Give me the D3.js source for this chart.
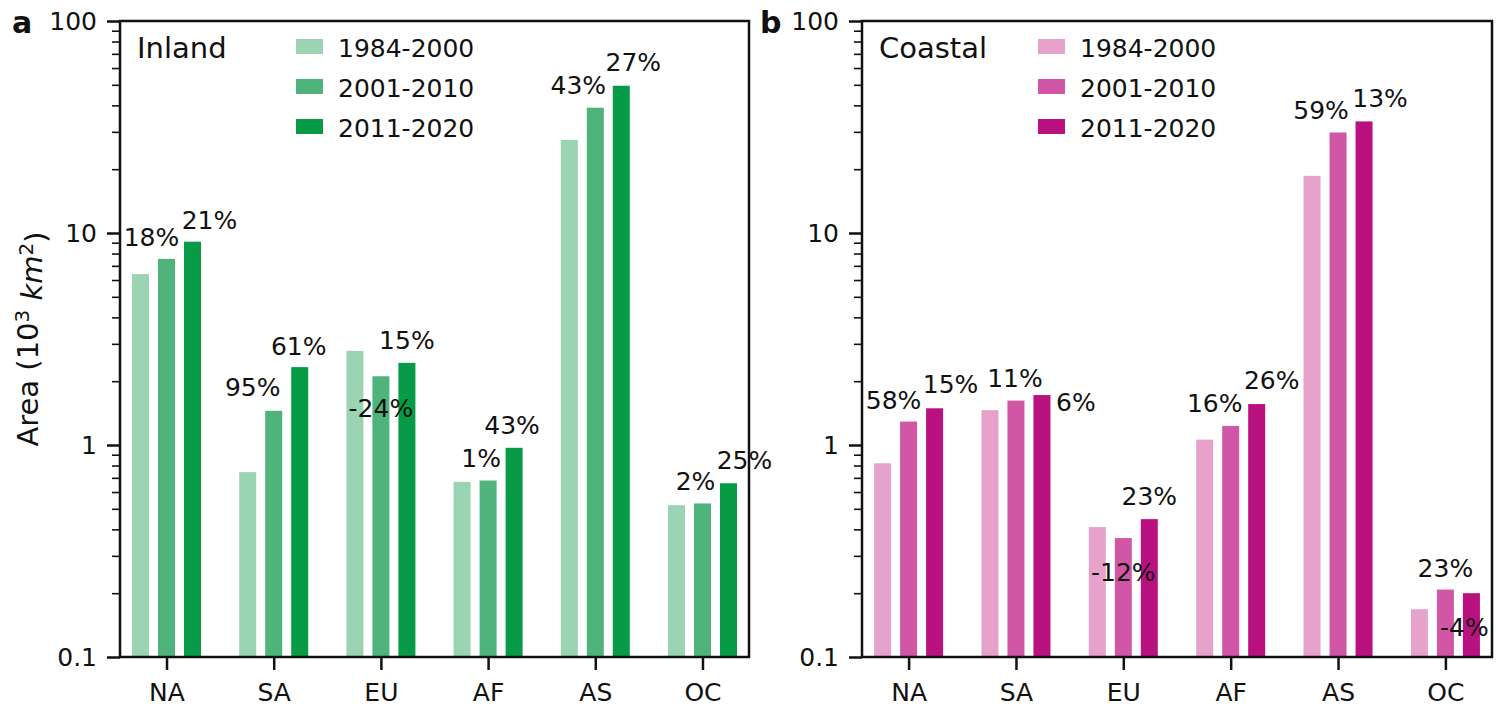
<!DOCTYPE html>
<html>
<head>
<meta charset="utf-8">
<script src="https://cdn.jsdelivr.net/npm/d3@7"></script>
<style>
  html, body { margin: 0; padding: 0; background: #fff; }
  svg { display: block; }
  text { font-family: "DejaVu Sans", sans-serif; fill: #111; }
</style>
</head>
<body>
<svg id="chart" width="1504" height="710"></svg>
<script>
// ---------------- DATA ----------------
const categories = ["NA", "SA", "EU", "AF", "AS", "OC"];
const periods = ["1984-2000", "2001-2010", "2011-2020"];

// Area (10^3 km^2)
const inland1984 = [6.4, 0.745, 2.78, 0.67, 27.5, 0.52];
const inland2001 = [7.55, 1.45, 2.11, 0.68, 39.0, 0.53];
const inland2011 = [9.1, 2.33, 2.44, 0.97, 49.5, 0.66];

const coastal1984 = [0.82, 1.46, 0.41, 1.06, 18.6, 0.168];
const coastal2001 = [1.29, 1.62, 0.364, 1.23, 29.8, 0.208];
const coastal2011 = [1.49, 1.72, 0.447, 1.56, 33.6, 0.200];

// change labels
const inlandChange2001 = ["18%", "95%", "-24%", "1%", "43%", "2%"];
const inlandChange2011 = ["21%", "61%", "15%", "43%", "27%", "25%"];
const coastalChange2001 = ["58%", "11%", "-12%", "16%", "59%", "23%"];
const coastalChange2011 = ["15%", "6%", "23%", "26%", "13%", "-4%"];

const yTickValues = [0.1, 1, 10, 100];
const yTickLabels = ["0.1", "1", "10", "100"];
const panelTitles = ["Inland", "Coastal"];
const panelLetters = ["a", "b"];

// ---------------- LAYOUT / STYLE ----------------
const greens = ["#9bd4b3", "#4fb37c", "#079b48"];
const pinks = ["#e6a2cb", "#d157a6", "#b9117f"];

// label nudges (px) relative to bar top-centre: [dx, dy to text centre]
const nudgeInlandMid  = [[-15,-22],[-21,-24],[0,32],[-7,-23],[-17,-23],[-7,-22]];
const nudgeInlandDark = [[17,-22],[-1,-21],[0,-23],[-2,-23],[12,-24],[16,-23]];
const nudgeCoastMid   = [[-15,-22],[-1,-23],[0,34],[-16,-23],[-17,-22],[0,-22]];
const nudgeCoastDark  = [[16,-24],[34,7],[0,-23],[15,-24],[16,-23],[-7,34]];

const panels = [
  { left: 120, right: 749, series: [inland1984, inland2001, inland2011], colors: greens,
    labels: [inlandChange2001, inlandChange2011], nudges: [nudgeInlandMid, nudgeInlandDark],
    title: panelTitles[0], letter: panelLetters[0], letterX: 12, yLabel: true },
  { left: 862, right: 1492, series: [coastal1984, coastal2001, coastal2011], colors: pinks,
    labels: [coastalChange2001, coastalChange2011], nudges: [nudgeCoastMid, nudgeCoastDark],
    title: panelTitles[1], letter: panelLetters[1], letterX: 760, yLabel: false }
];

const plotTop = 21, plotBottom = 657;
const svg = d3.select("#chart");
const FS = 25;

panels.forEach(p => {
  const g = svg.append("g");
  const x = d3.scalePoint().domain(categories).range([p.left, p.right]).padding(0.434);
  const sub = d3.scalePoint().domain(periods).range([-26, 26]);
  const y = d3.scaleLog().domain([0.1, 100]).range([plotBottom, plotTop]);
  const barW = 17;

  // bars
  p.series.forEach((vals, si) => {
    g.append("g").selectAll("rect")
      .data(vals)
      .join("rect")
      .attr("x", (d, i) => x(categories[i]) + sub(periods[si]) - barW / 2)
      .attr("y", d => y(d))
      .attr("width", barW)
      .attr("height", d => y(0.1) - y(d))
      .attr("fill", p.colors[si]);
  });

  // change labels
  [1, 2].forEach((si, li) => {
    const vals = p.series[si];
    g.append("g").selectAll("text")
      .data(p.labels[li])
      .join("text")
      .attr("x", (d, i) => x(categories[i]) + sub(periods[si]) + p.nudges[li][i][0])
      .attr("y", (d, i) => y(vals[i]) + p.nudges[li][i][1] + 9)
      .attr("text-anchor", "middle")
      .style("font-size", FS + "px")
      .text(d => d);
  });

  // y axis (major)
  const yAxis = d3.axisLeft(y).tickValues(yTickValues)
    .tickFormat((d, i) => yTickLabels[i]).tickSize(13).tickPadding(10);
  const ya = g.append("g").attr("transform", `translate(${p.left},0)`).call(yAxis);
  ya.select(".domain").remove();
  ya.selectAll(".tick line").attr("stroke", "#111").attr("stroke-width", 2.5);
  ya.selectAll(".tick text").style("font-size", FS + "px").style("font-family", "DejaVu Sans").attr("fill", "#111");

  // y axis (minor)
  const minor = [];
  [0.1, 1, 10].forEach(dec => { for (let k = 2; k <= 9; k++) minor.push(dec * k); });
  const yMinor = d3.axisLeft(y).tickValues(minor).tickFormat("").tickSize(8);
  const ym = g.append("g").attr("transform", `translate(${p.left},0)`).call(yMinor);
  ym.select(".domain").remove();
  ym.selectAll(".tick line").attr("stroke", "#111").attr("stroke-width", 1.6);

  // x axis
  const xAxis = d3.axisBottom(x).tickSize(13).tickPadding(13);
  const xa = g.append("g").attr("transform", `translate(0,${plotBottom})`).call(xAxis);
  xa.select(".domain").remove();
  xa.selectAll(".tick line").attr("stroke", "#111").attr("stroke-width", 2.5);
  xa.selectAll(".tick text").style("font-size", FS + "px").style("font-family", "DejaVu Sans").attr("fill", "#111");

  // frame
  g.append("rect")
    .attr("x", p.left).attr("y", plotTop)
    .attr("width", p.right - p.left).attr("height", plotBottom - plotTop)
    .attr("fill", "none").attr("stroke", "#111").attr("stroke-width", 2.5);

  // title
  g.append("text").attr("x", p.left + 17).attr("y", 58)
    .style("font-size", "29px").text(p.title);

  // legend
  const lg = g.append("g").attr("transform", `translate(${p.left + 176},39)`);
  periods.forEach((per, i) => {
    lg.append("rect").attr("x", 0).attr("y", i * 40).attr("width", 27).attr("height", 15)
      .attr("fill", p.colors[i]);
    lg.append("text").attr("x", 42).attr("y", i * 40 + 18)
      .style("font-size", FS + "px").text(per);
  });

  // panel letter
  g.append("text").attr("x", p.letterX).attr("y", 33)
    .style("font-size", "30px").style("font-weight", "bold").text(p.letter);

  // y label
  if (p.yLabel) {
    const t = g.append("text")
      .attr("transform", `translate(38,${(plotTop + plotBottom) / 2}) rotate(-90)`)
      .attr("text-anchor", "middle")
      .style("font-size", "29px");
    t.append("tspan").text("Area (10");
    t.append("tspan").attr("dy", "-0.45em").style("font-size", "20px").text("3");
    t.append("tspan").attr("dy", "0.45em").text(" ");
    t.append("tspan").style("font-style", "italic").text("km");
    t.append("tspan").attr("dy", "-0.45em").style("font-size", "20px").text("2");
    t.append("tspan").attr("dy", "0.45em").text(")");
  }
});
</script>
</body>
</html>
